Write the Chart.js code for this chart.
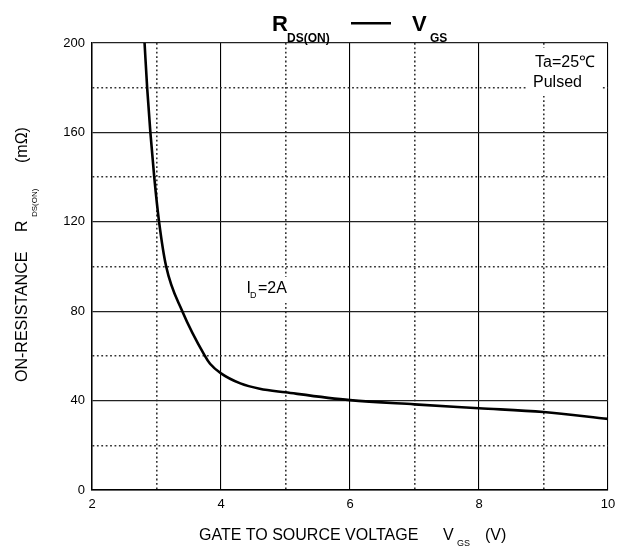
<!DOCTYPE html>
<html>
<head>
<meta charset="utf-8">
<script src="https://cdn.jsdelivr.net/npm/chart.js@4"></script>
<style>
html,body{margin:0;padding:0;background:#fff;}
#wrap{width:624px;height:548px;position:relative;}
</style>
</head>
<body>
<div id="wrap"><canvas id="c" width="624" height="548"></canvas></div>
<script>
// Data
const vgs = [2.815, 2.855, 2.905, 2.965, 3.04, 3.15, 3.40, 3.75, 3.83, 4.0, 4.3, 4.6, 5.0, 6.0, 7.0, 8.0, 9.0, 10.0];
const rdsOn = [200, 180, 160, 140, 120, 100, 80, 60, 56.5, 52.2, 47.7, 45.3, 43.7, 40.2, 38.3, 36.6, 34.9, 31.8];
const xTicks = [2, 4, 6, 8, 10];
const yTicks = [0, 40, 80, 120, 160, 200];

const FONT = '"Liberation Sans", Arial, Helvetica, sans-serif';
const DOT = [1.8, 2.6];

const textPlugin = {
  id: 'texts',
  afterDraw(chart) {
    const ctx = chart.ctx;
    ctx.save();
    ctx.textBaseline = 'alphabetic';
    ctx.textAlign = 'left';

    // white boxes behind in-plot annotations
    ctx.fillStyle = '#fff';
    ctx.fillRect(528, 48, 74, 48);
    ctx.fillRect(241, 277, 50, 26);

    ctx.fillStyle = '#000';
    // Title
    ctx.font = 'bold 22px ' + FONT;
    ctx.fillText('R', 272, 31);
    ctx.font = 'bold 12px ' + FONT;
    ctx.fillText('DS(ON)', 287, 42);
    ctx.fillRect(351, 22, 40, 2.5);
    ctx.font = 'bold 22px ' + FONT;
    ctx.fillText('V', 412, 31);
    ctx.font = 'bold 12px ' + FONT;
    ctx.fillText('GS', 430, 42);

    // X axis title
    ctx.font = '16px ' + FONT;
    ctx.fillText('GATE TO SOURCE VOLTAGE', 199, 540);
    ctx.fillText('V', 443, 540);
    ctx.fillText('(V)', 485, 540);
    ctx.font = '9px ' + FONT;
    ctx.fillText('GS', 457, 546);

    // Y axis title (rotated)
    ctx.save();
    ctx.translate(27, 382);
    ctx.rotate(-Math.PI / 2);
    ctx.font = '16px ' + FONT;
    ctx.fillText('ON-RESISTANCE', 0, 0);
    ctx.fillText('R', 150, 0);
    ctx.fillText('(mΩ)', 219, 0);
    ctx.font = '8px ' + FONT;
    ctx.fillText('DS(ON)', 165, 10);
    ctx.restore();

    // Annotations
    ctx.font = '16px ' + FONT;
    ctx.fillText('I', 246.5, 293);
    ctx.fillText('=2A', 258, 293);
    ctx.font = '9px ' + FONT;
    ctx.fillText('D', 250, 298);
    ctx.font = '16px ' + FONT;
    ctx.fillText('Ta=25℃', 535, 67);
    ctx.fillText('Pulsed', 533, 87);
    ctx.restore();
  }
};

new Chart(document.getElementById('c'), {
  type: 'line',
  data: {
    datasets: [{
      data: vgs.map((v, i) => ({x: v, y: rdsOn[i]})),
      borderColor: '#000',
      borderWidth: 2.6,
      pointRadius: 0,
      fill: false,
      cubicInterpolationMode: 'monotone'
    }]
  },
  options: {
    responsive: false,
    animation: false,
    events: [],
    layout: {padding: {left: 0, right: 16, top: 43, bottom: 0}},
    plugins: {legend: {display: false}, title: {display: false}, tooltip: {enabled: false}},
    scales: {
      x: {
        type: 'linear',
        min: 2, max: 10,
        afterFit: s => { s.height = 58; },
        ticks: {
          stepSize: 1,
          autoSkip: false,
          maxRotation: 0,
          padding: 7,
          color: '#000',
          font: {family: FONT, size: 13},
          callback: v => xTicks.includes(v) ? String(v) : ''
        },
        grid: {
          drawTicks: false,
          color: c => (c.tick && !xTicks.includes(c.tick.value)) ? '#333' : '#000',
          lineWidth: c => (c.tick && !xTicks.includes(c.tick.value)) ? 1.6 : 1.1
        },
        border: {
          display: true, color: '#000', width: 1.5,
          dash: c => (c.tick && !xTicks.includes(c.tick.value)) ? DOT : []
        }
      },
      y: {
        type: 'linear',
        min: 0, max: 200,
        afterFit: s => { s.width = 92; },
        ticks: {
          stepSize: 20,
          autoSkip: false,
          padding: 7,
          color: '#000',
          font: {family: FONT, size: 13},
          callback: v => yTicks.includes(v) ? String(v) : ''
        },
        grid: {
          drawTicks: false,
          color: c => (c.tick && !yTicks.includes(c.tick.value)) ? '#333' : '#222',
          lineWidth: c => (c.tick && !yTicks.includes(c.tick.value)) ? 1.6 : 1.3
        },
        border: {
          display: true, color: '#000', width: 1.5,
          dash: c => (c.tick && !yTicks.includes(c.tick.value)) ? DOT : []
        }
      }
    }
  },
  plugins: [textPlugin]
});
</script>
</body>
</html>
